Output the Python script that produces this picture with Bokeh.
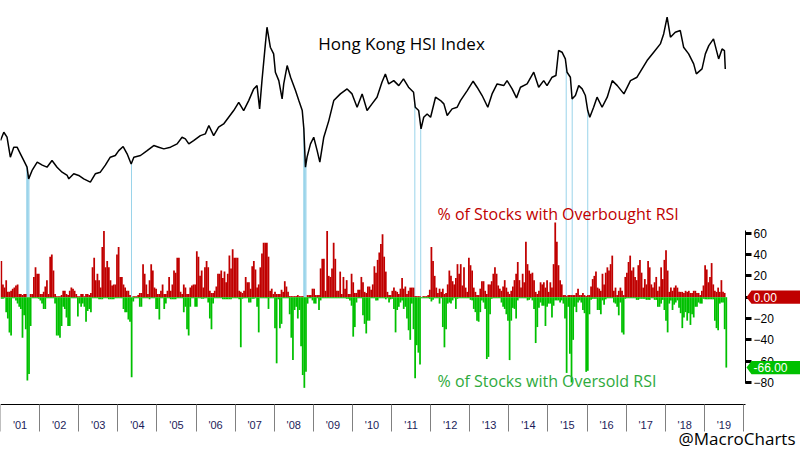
import numpy as np
import pandas as pd
from bokeh.plotting import figure
from bokeh.models import Range1d, LinearAxis, FixedTicker, Label
from bokeh.core.properties import value
from bokeh.embed import file_html
from bokeh.resources import INLINE

# ---------------- data ----------------
years = list(range(2001, 2020))
year_labels = ["'01", "'02", "'03", "'04", "'05", "'06", "'07", "'08", "'09", "'10",
               "'11", "'12", "'13", "'14", "'15", "'16", "'17", "'18", "'19"]

# % of stocks with overbought RSI, semi-monthly from Jan 2001 (one line per year)
overbought = [
    34, 12, 9, 16, 5, 5, 6, 8, 9, 11, 12, 3, 3, 2, 3, 3, 0, 0, 3, 3, 19, 28, 22, 22,
    3, 3, 5, 10, 16, 3, 38, 40, 25, 3, 1, 1, 1, 2, 6, 6, 3, 2, 6, 9, 8, 6, 3, 1,
    1, 3, 3, 1, 3, 3, 2, 4, 28, 37, 16, 22, 16, 9, 47, 62, 28, 34, 28, 16, 11, 12, 12, 40,
    47, 19, 19, 12, 9, 6, 6, 2, 0, 1, 1, 1, 2, 4, 4, 31, 22, 12, 3, 16, 31, 25, 9, 8,
    3, 3, 6, 12, 3, 3, 6, 19, 6, 12, 25, 23, 37, 37, 5, 3, 12, 9, 3, 3, 9, 11, 12, 12,
    43, 38, 20, 25, 9, 28, 34, 28, 6, 4, 4, 6, 10, 22, 22, 25, 18, 24, 14, 22, 39, 27, 45, 37,
    37, 37, 6, 5, 4, 6, 19, 14, 14, 8, 29, 34, 26, 9, 12, 28, 41, 51, 51, 51, 38, 6, 8, 3,
    5, 3, 3, 3, 7, 5, 15, 10, 5, 1, 1, 1, 1, 1, 2, 1, 1, 1, 0, 0, 2, 2, 2, 8,
    8, 2, 2, 2, 27, 36, 36, 6, 62, 20, 19, 27, 51, 36, 6, 6, 24, 3, 19, 8, 16, 3, 3, 22,
    14, 4, 4, 7, 7, 19, 14, 5, 4, 10, 10, 7, 12, 29, 23, 35, 42, 50, 59, 38, 24, 5, 2, 2,
    6, 9, 6, 5, 3, 8, 18, 8, 10, 3, 6, 9, 9, 9, 1, 1, 1, 1, 0, 1, 1, 1, 2, 7,
    47, 34, 20, 9, 4, 8, 5, 8, 3, 4, 12, 25, 20, 15, 12, 18, 31, 22, 31, 11, 28, 9, 5, 37,
    30, 25, 9, 5, 2, 2, 8, 15, 15, 6, 3, 12, 12, 15, 22, 28, 22, 11, 8, 6, 10, 16, 9, 5,
    3, 6, 10, 16, 22, 33, 16, 9, 22, 14, 52, 31, 25, 22, 23, 16, 5, 3, 6, 14, 12, 14, 9, 16,
    5, 14, 9, 31, 70, 52, 30, 16, 12, 2, 2, 1, 2, 2, 2, 2, 2, 4, 8, 2, 2, 4, 2, 1,
    2, 2, 10, 17, 20, 24, 9, 8, 6, 22, 12, 23, 28, 25, 31, 39, 6, 9, 2, 6, 9, 6, 2, 19,
    23, 33, 39, 25, 28, 19, 16, 30, 35, 23, 9, 17, 12, 34, 28, 12, 9, 14, 19, 6, 10, 28, 17, 35,
    44, 25, 5, 9, 6, 9, 11, 9, 5, 5, 5, 4, 6, 5, 6, 4, 4, 6, 6, 4, 4, 2, 6, 11,
    30, 26, 14, 19, 32, 12, 6, 5, 9, 5, 16, 5, 4, 0,
]

# % of stocks with oversold RSI (drawn downward), semi-monthly from Jan 2001
oversold = [
    -1.5, -1.5, -1, -14, -20, -33, -36, -1, -1, -3, -6, -9, -11, -38, -17, -30, -78, -72, -27, -1, -1, -1, -1, -1.5,
    -3, -6, -11, -11, -1, -1, -1, -1, -1, -6, -36, -36, -38, -27, -9, -11, -19, -27, -27, -1, -1, -1, -1, -18,
    -6, -9, -6, -9, -23, -13, -11, -14, -1, -1, -1, -1, -2, -2, -2, -1, -1, -1, -2, -2, -2, -2, -1, -1,
    -1, -1, -1, -11, -14, -14, -21, -23, -75, -4, -1, -1, -1, -9, -9, -1, -1, -1, -1, -2, -1, -1, -1, -11,
    -11, -21, -1, -1, -11, -6, -1, -1, -2, -2, -2, -2, -1, -1, -1, -1, -14, -9, -30, -36, -9, -1, -1, -9,
    -9, -1, -1, -1.5, -1.5, -1, -1, -5, -20, -30, -6, -1, -1, -1, -1, -1, -2, -2, -2, -2, -2, -2, -1, -1,
    -1, -1, -2, -47, -1.5, -1, -1, -1, -5, -5, -1.5, -1.5, -1, -9, -33, -1, -1, -1, -1, -1, -11, -1, -1, -1,
    -29, -62, -2, -29, -25, -1, -1, -1, -1, -16, -38, -59, -12, -9, -20, -12, -46, -73, -85, -70, -6, -1, -1, -3,
    -6, -6, -1, -12, -3, -1, -1, -1, -1, -1, -1, -1, -1, -1, -1, -1, -1, -1, -1, -1, -1.5, -1.5, -3, -8,
    -37, -28, -5, -1, -1, -1, -17, -25, -34, -22, -22, -1, -1, -1, -3, -3, -1, -1, -1, -1, -2, -1, -5, -2,
    -1.5, -11, -33, -12, -9, -5, -3, -11, -9, -20, -31, -40, -6, -30, -76, -45, -52, -63, -1, -1, -1, -1, -1, -1.5,
    -4, -2.5, -1, -1, -1, -6, -1, -28, -47, -30, -6, -5, -6, -3, -1, -11, -1.5, -1, -1, -1, -1, -1, -1, -1,
    -2.5, -3, -11, -14, -22, -23, -14, -3, -5, -11, -58, -56, -16, -1.5, -1, -1, -1, -1, -1, -5, -9, -11, -16, -22,
    -59, -22, -10, -11, -20, -3, -1, -1, -1, -1, -1, -3, -2.5, -1, -3, -11, -43, -28, -10, -5, -8, -8, -27, -9,
    -6, -6, -19, -8, -3, -3, -3, -5, -3, -6, -20, -71, -9, -53, -80, -40, -9, -14, -5, -3, -5, -12, -15, -70,
    -69, -16, -2.5, -1.5, -1.5, -1.5, -12, -12, -16, -3, -7, -2, -1, -1, -1, -1, -5, -6, -9, -17, -5, -33, -35, -1.5,
    -1, -1, -1, -1, -1, -1, -2.5, -2.5, -1.5, -1.5, -1.5, -1.5, -2.5, -2.5, -2.5, -1, -1, -2.5, -2.5, -9, -9, -6, -2.5, -12,
    -22, -33, -6, -3, -12, -7, -5, -3, -10, -15, -29, -19, -14, -22, -15, -26, -16, -19, -9, -9, -5, -6, -6, -1.5,
    -2, -2, -2, -2, -2, -2, -22, -29, -31, -6, -5, -5, -30, -66,
]

# Hang Seng Index, approximate levels
hsi_dates = [
    "2001-01-01", "2001-02-01", "2001-03-03", "2001-04-03", "2001-05-05", "2001-06-05", "2001-07-06",
    "2001-08-07", "2001-09-06", "2001-09-21", "2001-10-23", "2001-12-10", "2002-01-26", "2002-03-11",
    "2002-04-27", "2002-06-13", "2002-07-30", "2002-09-16", "2002-10-01", "2002-11-16", "2003-01-01",
    "2003-02-17", "2003-04-20", "2003-06-05", "2003-07-22", "2003-09-07", "2003-10-23", "2003-12-09",
    "2004-01-10", "2004-02-20", "2004-03-28", "2004-05-05", "2004-05-30", "2004-07-31", "2004-10-01",
    "2004-12-02", "2005-01-18", "2005-03-07", "2005-05-08", "2005-07-09", "2005-08-24", "2005-09-24",
    "2005-10-26", "2005-12-10", "2006-02-11", "2006-03-29", "2006-05-01", "2006-06-15", "2006-07-31",
    "2006-09-16", "2006-11-02", "2006-12-19", "2007-02-04", "2007-03-22", "2007-05-08", "2007-06-24",
    "2007-07-25", "2007-08-18", "2007-09-09", "2007-10-11", "2007-10-26", "2007-11-26", "2007-12-27",
    "2008-01-12", "2008-02-13", "2008-03-15", "2008-03-30", "2008-05-01", "2008-06-02", "2008-07-18",
    "2008-08-18", "2008-09-19", "2008-10-04", "2008-10-19", "2008-11-03", "2008-12-05", "2009-01-05",
    "2009-02-06", "2009-03-03", "2009-04-09", "2009-05-26", "2009-07-11", "2009-09-11", "2009-11-13",
    "2009-12-29", "2010-02-14", "2010-04-02", "2010-05-18", "2010-07-03", "2010-08-19", "2010-10-04",
    "2010-11-05", "2010-12-06", "2011-01-22", "2011-03-10", "2011-04-23", "2011-06-09", "2011-07-26",
    "2011-08-11", "2011-09-12", "2011-10-04", "2011-10-29", "2011-11-30", "2012-01-01", "2012-02-16",
    "2012-04-03", "2012-05-04", "2012-06-04", "2012-07-20", "2012-09-05", "2012-10-06", "2012-12-08",
    "2013-02-02", "2013-03-11", "2013-04-27", "2013-06-19", "2013-07-29", "2013-09-14", "2013-11-15",
    "2013-12-16", "2014-02-01", "2014-03-14", "2014-04-20", "2014-06-21", "2014-08-22", "2014-10-07",
    "2014-11-23", "2014-12-24", "2015-02-09", "2015-03-17", "2015-04-11", "2015-05-13", "2015-06-13",
    "2015-06-29", "2015-07-30", "2015-08-15", "2015-09-15", "2015-10-16", "2015-11-17", "2015-12-17",
    "2016-01-08", "2016-01-27", "2016-03-03", "2016-04-04", "2016-05-21", "2016-07-08", "2016-08-24",
    "2016-10-10", "2016-12-11", "2017-02-11", "2017-04-13", "2017-05-30", "2017-07-16", "2017-09-16",
    "2017-11-17", "2017-12-18", "2018-01-19", "2018-02-19", "2018-04-05", "2018-05-22", "2018-06-22",
    "2018-08-08", "2018-09-24", "2018-10-19", "2018-12-11", "2019-01-11", "2019-02-12", "2019-03-28",
    "2019-05-15", "2019-06-16", "2019-07-08", "2019-07-16",
]
hsi_values = [
    14770, 16000, 15260, 12300, 13780, 13780, 12800,
    11800, 10820, 9090, 10330, 11560, 11120, 10820,
    11800, 10820, 10080, 9590, 9090, 9840, 9590,
    9090, 8600, 9840, 10080, 11120, 12300, 12550,
    13280, 13880, 12800, 11300, 12300, 12550, 13280,
    14020, 13780, 13530, 13780, 14270, 15260, 15010,
    14270, 14760, 15500, 15750, 16990, 15500, 16740,
    17230, 18220, 19210, 20440, 19210, 20690, 22420,
    22910, 19460, 23650, 29090, 31560, 28600, 27610,
    24890, 23650, 20940, 23160, 25880, 24150, 22170,
    20690, 19210, 16490, 10820, 12300, 14270, 15260,
    13280, 11560, 15260, 17720, 20690, 21680, 22420,
    21680, 19700, 21680, 19210, 20200, 21190, 23410,
    24640, 23160, 23650, 22910, 23910, 22670, 21930,
    19700, 19210, 16490, 18220, 18710, 18220, 21190,
    20690, 20200, 18470, 19460, 19700, 20690, 22170,
    23560, 22670, 21440, 19700, 21680, 23160, 22910,
    23650, 22420, 21090, 22670, 23160, 24890, 22670,
    23650, 22910, 24150, 24400, 28110, 27860, 26870,
    24890, 24150, 20940, 21440, 22910, 22420, 21440,
    19210, 18220, 19700, 21190, 19700, 21190, 23650,
    22910, 21680, 23650, 24150, 25380, 26620, 27860,
    29090, 30570, 33050, 30080, 30820, 31070, 28600,
    27610, 26130, 24640, 25380, 27610, 28840, 29830,
    26870, 28350, 28110, 25380,
]

# dates of the extreme oversold readings marked with blue lines
marker_dates = [
    "2001-09-03", "2001-09-10", "2001-09-17", "2001-09-24", "2004-05-08",
    "2008-10-03", "2008-10-10", "2008-10-17", "2008-10-24", "2011-08-07",
    "2011-10-01", "2015-06-21", "2015-08-16", "2016-01-08",
]

rsi_ticks = [-80, -60, -40, -20, 0, 20, 40, 60]

# ---------------- layout helpers (canvas pixel -> data) ----------------
PX_PER_YEAR = 39.1
RSI_PX = 1.0664


def px_x(px):
    return 2001 + px / PX_PER_YEAR


def px_y(py):
    return (296.7 - py) / RSI_PX


def px_hsi(py):
    return 8400 + (183 - py) / 0.006747


def to_dec(dates):
    d = pd.to_datetime(dates)
    return np.asarray(d.year + (d.dayofyear - 1) / 365.25, dtype=float)


RSI_LO, RSI_HI = px_y(450), px_y(0)
HSI_LO, HSI_HI = px_hsi(450), px_hsi(0)

p = figure(width=800, height=450, output_backend="svg", toolbar_location=None,
           x_range=Range1d(px_x(0), px_x(800)), y_range=Range1d(RSI_LO, RSI_HI),
           x_axis_type=None, y_axis_type=None,
           min_border_left=0, min_border_right=0, min_border_top=0, min_border_bottom=0,
           outline_line_color=None, background_fill_color="white", border_fill_color="white")
p.extra_y_ranges = {"hsi": Range1d(HSI_LO, HSI_HI)}

# blue marker lines from the index line down to the zero line
mx = to_dec(marker_dates)
hx = to_dec(hsi_dates)
mtop = np.interp(mx, hx, hsi_values)
zero_in_hsi = HSI_LO + (0 - RSI_LO) / (RSI_HI - RSI_LO) * (HSI_HI - HSI_LO)
p.segment(x0=mx, y0=mtop, x1=mx, y1=[zero_in_hsi] * len(mx), y_range_name="hsi",
          line_color="#9ad4ea", line_width=1)

# bars
bx_ob = [2001 + (i + 0.5) / 24 for i in range(len(overbought))]
bx_os = [2001 + (i + 0.5) / 24 for i in range(len(oversold))]
p.vbar(x=bx_ob, top=overbought, bottom=0, width=1.08 / 24, fill_color="#c00000", line_color=None)
p.vbar(x=bx_os, top=oversold, bottom=0, width=1.08 / 24, fill_color="#00c000", line_color=None)

# HSI line
p.line(hx, hsi_values, y_range_name="hsi", line_color="black", line_width=1.5)

# bottom axis: labels mid-year, separators at year starts
xaxis = LinearAxis(ticker=FixedTicker(ticks=[y + 0.5 for y in years],
                                      minor_ticks=list(range(2001, 2021))),
                   fixed_location=px_y(404), bounds=(px_x(0), px_x(745)))
xaxis.major_label_overrides = {y + 0.5: lab for y, lab in zip(years, year_labels)}
xaxis.axis_line_color = "black"
xaxis.major_tick_line_color = None
xaxis.major_tick_out = 0
xaxis.major_tick_in = 0
xaxis.minor_tick_line_color = "#808080"
xaxis.minor_tick_out = 27
xaxis.minor_tick_in = 0
xaxis.major_label_standoff = -13
xaxis.major_label_text_font = "Liberation Sans"
xaxis.major_label_text_font_size = "11px"
xaxis.major_label_text_color = "#1c1c5a"
p.add_layout(xaxis, "below")

# right axis at the end of the data area
yaxis = LinearAxis(ticker=FixedTicker(ticks=rsi_ticks), fixed_location=px_x(745),
                   bounds=(-81, 62.5))
yaxis.axis_line_color = "black"
yaxis.major_tick_line_color = "black"
yaxis.major_tick_line_width = 3
yaxis.major_tick_out = 6
yaxis.major_tick_in = 0
yaxis.minor_tick_line_color = None
yaxis.major_label_standoff = 2
yaxis.major_label_text_font = "Liberation Sans"
yaxis.major_label_text_font_size = "12px"
yaxis.major_label_text_color = "black"
p.add_layout(yaxis, "right")

# texts
p.add_layout(Label(x=px_x(401), y=px_y(43), text="Hong Kong HSI Index", text_align="center",
                   text_baseline="middle", text_font="Open Sans", text_font_size="17px",
                   text_color="black"))
p.add_layout(Label(x=px_x(437), y=px_y(213), text="% of Stocks with Overbought RSI",
                   text_align="left", text_baseline="middle", text_font="Open Sans",
                   text_font_size="16px", text_color="#c00000"))
p.add_layout(Label(x=px_x(437), y=px_y(380), text="% of Stocks with Oversold RSI",
                   text_align="left", text_baseline="middle", text_font="Open Sans",
                   text_font_size="16px", text_color="#2eaa3c"))
p.add_layout(Label(x=px_x(795), y=px_y(438), text="@MacroCharts", text_align="right",
                   text_baseline="middle", text_font="Open Sans", text_font_size="17px",
                   text_color="black"))

# last-value tags on the right axis (arrow-shaped boxes)
last_vals = [overbought[-1], oversold[-1]]
tag_colors = ["#c00000", "#00c000"]
half = 6.6 / RSI_PX
tag_xs = [[px_x(746), px_x(751), px_x(800), px_x(800), px_x(751)] for _ in last_vals]
tag_ys = [[v, v + half, v + half, v - half, v - half] for v in last_vals]
p.patches(tag_xs, tag_ys, fill_color=tag_colors, line_color=None, level="overlay")
p.text(x=[px_x(753)] * len(last_vals), y=last_vals, text=[f"{v:.2f}" for v in last_vals],
       text_font=value("Liberation Sans"), text_font_size="12px", text_color="white",
       text_baseline="middle", text_align="left", level="overlay")

open("out.html", "w").write(file_html(p, INLINE))
